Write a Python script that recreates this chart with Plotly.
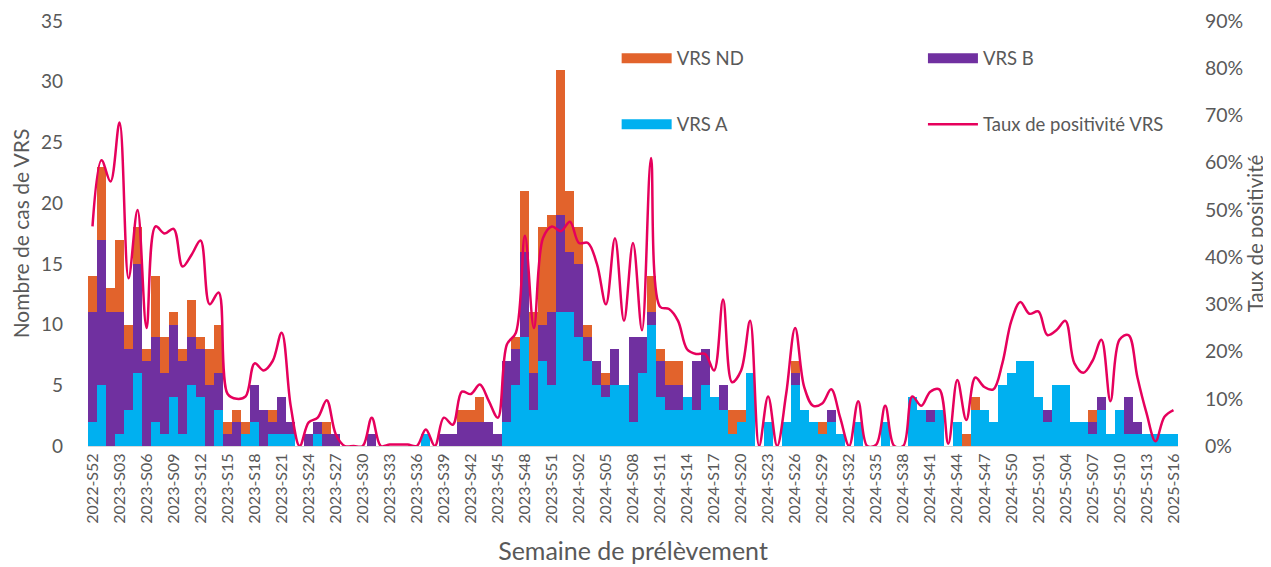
import plotly.graph_objects as go

# ---- categories (ISO weeks) ----
weeks = (["2022-S52"]
         + [f"2023-S{w:02d}" for w in range(1, 53)]
         + [f"2024-S{w:02d}" for w in range(1, 53)]
         + [f"2025-S{w:02d}" for w in range(1, 17)])
tick_labels = weeks[::3]

# ---- series values (number of cases) ----
vrs_a = [2, 5, 0, 1, 3, 6, 0, 2, 1, 4, 1, 5, 4, 0, 3, 0, 0, 1, 2, 0,
         1, 1, 1, 0, 0, 1, 0, 0, 0, 0, 0, 0, 0, 0, 0, 0, 0, 1, 0, 0,
         0, 0, 0, 0, 0, 0, 2, 5, 9, 3, 7, 5, 11, 11, 9, 7, 5, 4, 5, 5,
         2, 6, 10, 4, 3, 3, 4, 3, 5, 4, 3, 1, 2, 6, 0, 2, 0, 2, 5, 3,
         2, 1, 2, 1, 0, 2, 0, 0, 2, 0, 0, 4, 3, 2, 3, 0, 2, 0, 3, 3,
         2, 5, 6, 7, 7, 4, 2, 5, 5, 2, 2, 1, 3, 1, 3, 1, 1, 1, 1, 1,
         1]
vrs_b = [9, 12, 11, 10, 5, 9, 7, 7, 5, 6, 6, 4, 4, 5, 3, 1, 2, 0, 3, 3,
         1, 3, 1, 0, 1, 1, 1, 1, 0, 0, 0, 1, 0, 0, 0, 0, 0, 0, 0, 1,
         1, 2, 2, 2, 2, 1, 5, 3, 7, 3, 3, 6, 8, 5, 6, 2, 2, 1, 3, 0,
         7, 3, 1, 3, 2, 2, 0, 4, 3, 0, 2, 0, 0, 0, 0, 0, 0, 0, 1, 0,
         0, 0, 1, 0, 0, 0, 0, 0, 0, 0, 0, 0, 0, 1, 0, 0, 0, 0, 0, 0,
         0, 0, 0, 0, 0, 0, 1, 0, 0, 0, 0, 1, 1, 0, 0, 3, 1, 0, 0, 0,
         0]
vrs_nd = [3, 6, 2, 6, 2, 3, 1, 5, 3, 1, 1, 3, 1, 3, 4, 1, 1, 1, 0, 0,
          1, 0, 0, 0, 0, 0, 1, 0, 0, 0, 0, 0, 0, 0, 0, 0, 0, 0, 0, 0,
          0, 1, 1, 2, 0, 0, 0, 1, 5, 5, 8, 8, 12, 5, 3, 1, 0, 1, 0, 0,
          0, 0, 3, 1, 2, 2, 0, 0, 0, 0, 0, 2, 1, 0, 0, 0, 0, 0, 1, 0,
          0, 1, 0, 0, 0, 0, 0, 0, 0, 0, 0, 0, 0, 0, 0, 0, 0, 1, 1, 0,
          0, 0, 0, 0, 0, 0, 0, 0, 0, 0, 0, 1, 0, 0, 0, 0, 0, 0, 0, 0,
          0]

# ---- positivity rate (%) ----
taux_pos = [46.5, 60.5, 56, 68.5, 35.5, 50, 25, 46.5, 45, 46, 38, 40.5, 43.5, 30, 32.5,
            11, 10, 10.5, 17.5, 16, 18, 24, 8.5, 0, 5, 6, 9.7, 2.5, 0, 0,
            0, 6, 0, 0.3, 0.3, 0.3, 0, 3.5, 0, 6, 4.5, 11.5, 11, 13, 9.5,
            6, 21.5, 24, 44.5, 25, 44, 46.5, 45.5, 47.5, 43, 43, 38.5, 30, 44, 26.5,
            43, 24.5, 61, 29.5, 29, 26.5, 20.5, 19.5, 19.5, 16, 31, 13.5, 16, 26.5, 0,
            10.5, 0, 11, 25, 12.5, 8.5, 9, 12, 6, 0, 9.5, 0, 0.3, 8.5, 0,
            0, 10.5, 8.5, 11.5, 12, 0.5, 14, 5.5, 14.5, 12.5, 12, 17.5, 26.5, 30.5, 28,
            28.5, 23.5, 24.5, 26.5, 17.5, 15.5, 18, 22.5, 9.5, 22.5, 23.5, 14.5, 7, 1, 6.2,
            7.6]

C_A = "#00B0F0"
C_B = "#7030A0"
C_ND = "#E2632C"
C_LINE = "#E6005C"
TXT = "#595959"
FONT = "Lato"

fig = go.Figure()
fig.add_bar(x=weeks, y=vrs_a, marker=dict(color=C_A, line=dict(width=0)), name="VRS A", showlegend=False)
fig.add_bar(x=weeks, y=vrs_b, marker=dict(color=C_B, line=dict(width=0)), name="VRS B", showlegend=False)
fig.add_bar(x=weeks, y=vrs_nd, marker=dict(color=C_ND, line=dict(width=0)), name="VRS ND", showlegend=False)
fig.add_scatter(x=weeks, y=[v / 100 for v in taux_pos], yaxis="y2", mode="lines",
                line=dict(color=C_LINE, width=2.5, shape="spline", smoothing=1.0),
                name="Taux de positivité VRS", showlegend=False)

# legend entries (wide swatches like the original)
fig.add_scatter(x=[None], y=[None], mode="lines", line=dict(color=C_ND, width=13),
                name="VRS ND", legend="legend", legendgroup="nd", legendrank=1)
fig.add_scatter(x=[None], y=[None], mode="lines", line=dict(color=C_A, width=13),
                name="VRS A", legend="legend", legendgroup="a", legendrank=2)
fig.add_scatter(x=[None], y=[None], mode="lines", line=dict(color=C_B, width=13),
                name="VRS B", legend="legend2", legendgroup="b", legendrank=1)
fig.add_scatter(x=[None], y=[None], mode="lines", line=dict(color=C_LINE, width=2.5),
                name="Taux de positivité VRS", legend="legend2", legendgroup="l", legendrank=2)

leg_common = dict(font=dict(family=FONT, size=18.5, color=TXT), bgcolor="rgba(0,0,0,0)",
                  itemwidth=50, tracegroupgap=39, xanchor="left", yanchor="top",
                  orientation="v", traceorder="grouped")

# the page body adds an 8px offset: the figure spans 8..1271 x 8..567
fig.update_layout(
    width=1263, height=559,
    margin=dict(l=80, r=93, t=13, b=121),
    plot_bgcolor="white", paper_bgcolor="white",
    barmode="stack", bargap=0,
    font=dict(family=FONT, color=TXT),
    xaxis=dict(type="category", tickmode="array", tickvals=tick_labels, ticktext=tick_labels,
               tickangle=-90, tickfont=dict(size=16, color=TXT), showgrid=False,
               showline=True, linecolor="#D9D9D9", linewidth=1, ticks="", automargin=False,
               title=dict(text="Semaine de prélèvement", font=dict(size=25, color=TXT), standoff=19)),
    yaxis=dict(range=[0, 35], dtick=5, showgrid=False, zeroline=False, ticks="", automargin=False,
               tickfont=dict(size=19, color=TXT), ticklabelstandoff=24,
               title=dict(text="Nombre de cas de VRS", font=dict(size=21, color=TXT), standoff=12)),
    yaxis2=dict(range=[0, 0.9], dtick=0.1, tickformat=".0%", overlaying="y", side="right",
                showgrid=False, zeroline=False, ticks="", automargin=False,
                tickfont=dict(size=19.5, color=TXT), ticklabelstandoff=26,
                title=dict(text="Taux de positivité", font=dict(size=20.5, color=TXT), standoff=2)),
    legend=dict(x=0.485, y=0.956, **leg_common),
    legend2=dict(x=0.766, y=0.956, **leg_common),
)

fig.write_html("out.html")
